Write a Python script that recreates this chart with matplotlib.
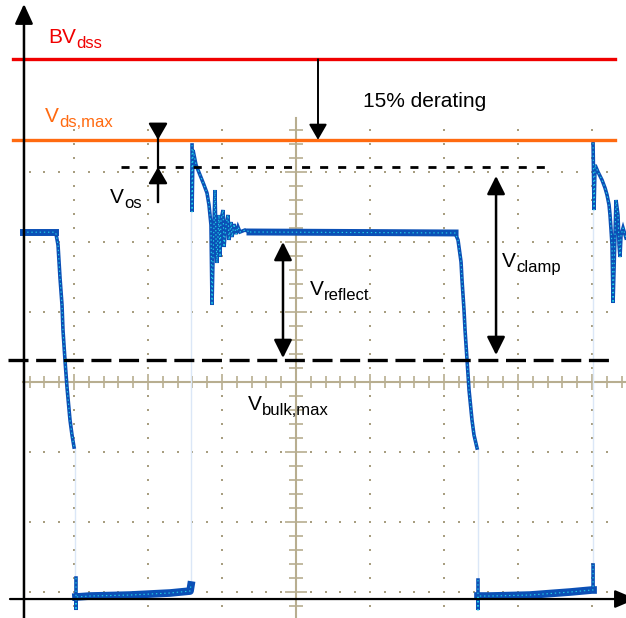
import matplotlib
matplotlib.use("Agg")
import matplotlib.pyplot as plt
import numpy as np

plt.rcParams['font.family'] = ['Liberation Sans', 'DejaVu Sans']
plt.rcParams['lines.scale_dashes'] = False

# ---------------- data (scope divisions: x = time div, y = voltage div) ----------
# levels
bvdss_level = 4.61
vdsmax_level = 3.46
vos_level = 3.07
vbulk_level = 0.31

# waveform, cycle 1 (falling edge from reflected plateau)
t_fall1 = [-3.689, -3.257, -3.243, -3.216, -3.189, -3.162, -3.149, -3.122, -3.095, -3.054, -3.027, -3.0]
v_fall1 = [2.14, 2.14, 2.114, 1.957, 1.486, 1.10, 0.743, 0.314, -0.071, -0.543, -0.757, -0.929]

# bottom (on-state) plateau 1
t_low1 = [-2.973, -2.973, -2.973, -2.784, -2.243, -1.703, -1.432, -1.419]
v_low1 = [-2.80, -3.257, -3.071, -3.057, -3.043, -3.014, -2.986, -2.90]

# turn-off spike + ringing, cycle 2
t_ring2 = [-1.405, -1.405, -1.392, -1.351, -1.297, -1.243, -1.203, -1.176, -1.149, -1.135, -1.122,
           -1.095, -1.081, -1.068, -1.054, -1.041, -1.027, -1.014, -0.986, -0.973, -0.946, -0.919,
           -0.905, -0.878, -0.865, -0.838, -0.811, -0.784, -0.757, -0.689, -0.622]
v_ring2 = [3.386, 2.429, 3.314, 3.10, 2.957, 2.814, 2.70, 2.529, 2.243, 1.10, 1.743,
           2.743, 2.029, 1.70, 2.10, 2.386, 1.786, 2.314, 2.457, 1.929, 2.243, 2.386,
           2.029, 2.286, 2.071, 2.257, 2.114, 2.214, 2.143, 2.171, 2.143]

# reflected plateau + falling edge, cycle 2
t_fall2 = [-0.622, 2.149, 2.189, 2.230, 2.243, 2.270, 2.284, 2.311, 2.338, 2.378, 2.405, 2.446]
v_fall2 = [2.143, 2.129, 2.029, 1.714, 1.457, 1.029, 0.743, 0.314, -0.114, -0.543, -0.757, -0.943]

# bottom plateau 2
t_low2 = [2.459, 2.459, 2.459, 2.622, 3.162, 3.703, 4.0, 4.014, 4.014]
v_low2 = [-2.829, -3.257, -3.057, -3.057, -3.043, -3.0, -2.971, -2.971, -2.614]

# turn-off spike, cycle 3
t_ring3 = [4.014, 4.027, 4.041, 4.081, 4.135, 4.176, 4.203, 4.230, 4.243, 4.257, 4.270, 4.284,
           4.297, 4.324, 4.351, 4.365, 4.378, 4.392, 4.419, 4.459]
v_ring3 = [3.414, 2.457, 3.10, 3.0, 2.886, 2.771, 2.671, 2.529, 2.386, 2.171, 1.957, 1.129,
           1.60, 2.60, 2.386, 1.957, 1.786, 2.10, 2.20, 2.057]

# faint vertical transition traces (time, from, to)
fast_edges = [(-2.986, -0.93, -3.10), (-1.419, -2.99, 3.39), (2.459, -0.943, -3.10), (4.014, -2.97, 3.41)]

# ---------------- figure ----------------
fig = plt.figure(figsize=(6.26, 6.18), dpi=100)
ax = fig.add_axes([0, 0, 1, 1])
ax.set_xlim(-4.0, 4.459)
ax.set_ylim(-3.371, 5.457)
ax.axis('off')

grid_c = '#a89e80'
grat_c = '#b8ae90'

# dotted scope grid
cols = [-3, -2, -1, 1, 2, 3, 4]
rows = [-3, -2, -1, 1, 2, 3]
ydots = np.arange(-3.2, 3.61, 0.2)
xdots = np.arange(-3.6, 4.21, 0.2)
for c in cols:
    ax.plot(np.full_like(ydots, c), ydots, ls='none', marker='s', ms=1.5, mew=0, color=grid_c, zorder=1)
for r in rows:
    ax.plot(xdots, np.full_like(xdots, r), ls='none', marker='s', ms=1.5, mew=0, color=grid_c, zorder=1)

# center graticule
ax.plot([0, 0], [3.771, -3.371], color=grat_c, lw=1.5, zorder=1)
ax.plot([-3.689, 4.459], [0, 0], color=grat_c, lw=1.5, zorder=1)
vt = np.arange(-3.2, 3.61, 0.2)
vt_major = np.isclose(vt, np.round(vt))
ax.hlines(vt[~vt_major], -0.095, 0.095, color=grat_c, lw=1.2, zorder=1)
ax.hlines(vt[vt_major], -0.15, 0.15, color=grat_c, lw=1.2, zorder=1)
ht = np.arange(-3.6, 4.41, 0.2)
ht_major = np.isclose(ht, np.round(ht))
ax.vlines(ht[~ht_major], -0.08, 0.08, color=grat_c, lw=1.2, zorder=1)
ax.vlines(ht[ht_major], -0.115, 0.115, color=grat_c, lw=1.2, zorder=1)

# waveform
blue = '#0b50b6'
cyan = '#22d3e6'
for t0, a, b in fast_edges:
    ax.plot([t0, t0], [a, b], color='#dbe7f7', lw=1.0, zorder=2)
segs = [(t_fall1, v_fall1), (t_low1, v_low1), (t_ring2, v_ring2), (t_fall2, v_fall2),
        (t_low2, v_low2), (t_ring3, v_ring3)]
for t, v in segs:
    ax.plot(t, v, color=blue, lw=2.6, zorder=3, solid_joinstyle='miter')
# thick plateaus
ax.plot(t_fall1[:2], v_fall1[:2], color=blue, lw=5.0, zorder=3)
ax.plot(t_fall2[:2], v_fall2[:2], color=blue, lw=5.0, zorder=3)
ax.plot(t_low1[2:], v_low1[2:], color=blue, lw=5.5, zorder=3)
ax.plot(t_low2[2:8], v_low2[2:8], color=blue, lw=5.5, zorder=3)
# cyan speckle
for t, v in segs:
    ax.plot(t, v, color=cyan, lw=0.8, ls=(0, (1.0, 2.0)), zorder=4)

# limit lines
ax.plot([-3.824, 4.311], [bvdss_level] * 2, color='#f00000', lw=2.4, zorder=5)
ax.plot([-3.824, 4.311], [vdsmax_level] * 2, color='#ff6a10', lw=2.4, zorder=5)
ax.plot([-2.365, 3.392], [vos_level] * 2, color='black', lw=2.0, ls=(0, (5.8, 7.2)), zorder=5)
ax.plot([-3.892, 4.243], [vbulk_level] * 2, color='black', lw=2.4, ls=(0, (14.4, 5.5)), zorder=5)

# arrows
def arrow(x0, y0, x1, y1, hl, hw, lw, style='-|>'):
    ax.annotate('', xy=(x1, y1), xytext=(x0, y0), annotation_clip=False,
                arrowprops=dict(arrowstyle=f'{style},head_length={hl},head_width={hw}',
                                mutation_scale=10, lw=lw, color='black',
                                shrinkA=0, shrinkB=0), zorder=6)

arrow(-3.676, -3.371, -3.676, 5.40, 1.2, 0.55, 1.8)
arrow(-3.865, -3.10, 4.595, -3.10, 1.3, 0.55, 1.6)

# derating arrow
arrow(0.297, bvdss_level, 0.297, vdsmax_level, 0.95, 0.55, 1.4)
# Vos arrows
ax.plot([-1.865, -1.865], [3.64, 2.571], color='black', lw=1.6, zorder=6)
arrow(-1.865, 3.66, -1.865, vdsmax_level, 1.0, 0.58, 1.6)
arrow(-1.865, 2.571, -1.865, vos_level, 1.0, 0.58, 1.6)
# Vreflect and Vclamp
arrow(-0.176, 0.343, -0.176, 2.0, 1.1, 0.55, 1.8, style='<|-|>')
arrow(2.703, 0.386, 2.703, 2.943, 1.1, 0.55, 1.8, style='<|-|>')

# labels
def label(x, y, main, sub, color='black', fs=15, sfs=12):
    t = ax.text(x, y, main, fontsize=fs, color=color, va='baseline', ha='left', zorder=7)
    ax.annotate(sub, xy=(1, 0), xycoords=t, xytext=(0.2, -0.5), textcoords='offset points',
                fontsize=sfs, color=color, va='baseline', ha='left', zorder=7)

label(-3.351, 4.843, 'BV', 'dss', color='#f00000')
label(-3.392, 3.714, 'V', 'ds,max', color='#ff6a10')
label(-2.514, 2.557, 'V', 'os')
label(0.189, 1.243, 'V', 'reflect')
label(2.784, 1.643, 'V', 'clamp')
label(-0.649, -0.40, 'V', 'bulk,max')
ax.text(0.905, 3.929, '15% derating', fontsize=15, color='black', va='baseline', ha='left', zorder=7)

fig.savefig('out.png', dpi=100)
